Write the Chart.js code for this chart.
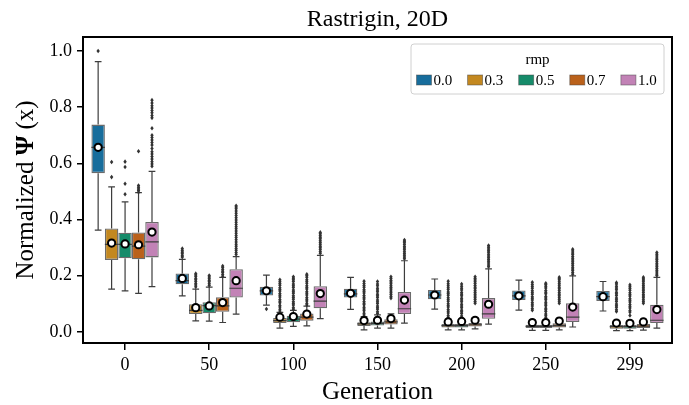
<!DOCTYPE html>
<html>
<head>
<meta charset="utf-8">
<script src="https://cdn.jsdelivr.net/npm/chart.js@4.4.1/dist/chart.umd.min.js"></script>
<style>
  html, body { margin: 0; padding: 0; background: #fff; }
</style>
</head>
<body>
<canvas id="chart" width="689" height="405"></canvas>
<script>
// data
const generations = ['0', '50', '100', '150', '200', '250', '299'];
const rmpLevels = ['0.0', '0.3', '0.5', '0.7', '1.0'];
const yTicks = [0.0, 0.2, 0.4, 0.6, 0.8, 1.0];

// rows = rmp level, columns = generation
const q1Values = [
  [0.565, 0.169, 0.129, 0.122, 0.116, 0.113, 0.110],
  [0.256, 0.063, 0.031, 0.021, 0.015, 0.013, 0.011],
  [0.262, 0.066, 0.034, 0.022, 0.015, 0.013, 0.011],
  [0.258, 0.071, 0.039, 0.026, 0.019, 0.015, 0.013],
  [0.265, 0.122, 0.084, 0.063, 0.046, 0.035, 0.031]
];
const medianValues = [
  [0.657, 0.182, 0.146, 0.135, 0.131, 0.128, 0.125],
  [0.311, 0.076, 0.040, 0.028, 0.022, 0.019, 0.018],
  [0.311, 0.093, 0.045, 0.030, 0.022, 0.019, 0.018],
  [0.305, 0.092, 0.052, 0.035, 0.025, 0.022, 0.020],
  [0.320, 0.155, 0.109, 0.082, 0.064, 0.052, 0.041]
];
const q3Values = [
  [0.738, 0.208, 0.160, 0.153, 0.149, 0.147, 0.145],
  [0.368, 0.098, 0.049, 0.034, 0.028, 0.025, 0.024],
  [0.353, 0.105, 0.057, 0.037, 0.028, 0.025, 0.024],
  [0.354, 0.123, 0.065, 0.045, 0.031, 0.030, 0.028],
  [0.391, 0.223, 0.162, 0.142, 0.120, 0.102, 0.096]
];
const whiskerLow = [
  [0.362, 0.128, 0.095, 0.080, 0.081, 0.077, 0.074],
  [0.152, 0.039, 0.013, 0.007, 0.007, 0.005, 0.004],
  [0.146, 0.038, 0.019, 0.013, 0.007, 0.005, 0.004],
  [0.137, 0.033, 0.021, 0.013, 0.010, 0.007, 0.006],
  [0.161, 0.063, 0.047, 0.031, 0.027, 0.017, 0.013]
];
const whiskerHigh = [
  [0.962, 0.258, 0.202, 0.194, 0.188, 0.184, 0.179],
  [0.516, 0.152, 0.069, 0.054, 0.045, 0.042, 0.040],
  [0.463, 0.159, 0.076, 0.060, 0.045, 0.042, 0.040],
  [0.496, 0.194, 0.091, 0.064, 0.050, 0.048, 0.045],
  [0.571, 0.268, 0.272, 0.253, 0.224, 0.199, 0.194]
];
const meanValues = [
  [0.657, 0.190, 0.146, 0.137, 0.131, 0.128, 0.125],
  [0.316, 0.086, 0.052, 0.040, 0.035, 0.033, 0.031],
  [0.313, 0.092, 0.054, 0.041, 0.037, 0.033, 0.030],
  [0.310, 0.104, 0.063, 0.047, 0.041, 0.038, 0.035],
  [0.355, 0.182, 0.136, 0.113, 0.098, 0.088, 0.079]
];

// fliers, one list per generation
const outliers00 = [
  [1.0],
  [0.266, 0.271, 0.278, 0.283, 0.289, 0.296],
  [0.081],
  [], [], [], []
];
const outliers03 = [
  [0.551, 0.605],
  [0.160, 0.167, 0.172, 0.179, 0.185, 0.190, 0.197, 0.202, 0.207],
  [0.074, 0.080, 0.088, 0.094, 0.103, 0.109, 0.115, 0.124, 0.130, 0.136, 0.145, 0.151, 0.157, 0.166, 0.172, 0.178, 0.185],
  [0.060, 0.066, 0.075, 0.081, 0.087, 0.096, 0.102, 0.108, 0.117, 0.123, 0.129, 0.138, 0.144, 0.150, 0.159, 0.165, 0.172, 0.180],
  [0.052, 0.058, 0.067, 0.073, 0.079, 0.088, 0.094, 0.100, 0.109, 0.115, 0.121, 0.130, 0.136, 0.142, 0.151, 0.157, 0.164, 0.171, 0.180],
  [0.077, 0.083, 0.092, 0.098, 0.104, 0.113, 0.119, 0.125, 0.134, 0.140, 0.146, 0.155, 0.161, 0.168, 0.176],
  [0.072, 0.078, 0.087, 0.093, 0.099, 0.108, 0.114, 0.120, 0.129, 0.135, 0.141, 0.150, 0.156, 0.162, 0.170, 0.175]
];
const outliers05 = [
  [0.490, 0.527, 0.587, 0.606],
  [0.165, 0.171, 0.178, 0.183, 0.189, 0.195, 0.200],
  [0.080, 0.086, 0.095, 0.101, 0.107, 0.116, 0.122, 0.128, 0.137, 0.143, 0.149, 0.158, 0.164, 0.170, 0.179, 0.185, 0.191, 0.196],
  [0.065, 0.071, 0.080, 0.086, 0.092, 0.101, 0.107, 0.113, 0.122, 0.128, 0.134, 0.143, 0.149, 0.155, 0.164, 0.170, 0.179],
  [0.050, 0.056, 0.065, 0.071, 0.077, 0.086, 0.092, 0.098, 0.107, 0.113, 0.119, 0.128, 0.134, 0.140, 0.149, 0.155, 0.162, 0.170],
  [0.050, 0.057, 0.063, 0.072, 0.078, 0.084, 0.093, 0.099, 0.105, 0.114, 0.120, 0.126, 0.135, 0.141, 0.147, 0.156, 0.162, 0.168, 0.173],
  [0.058, 0.070, 0.076, 0.085, 0.091, 0.097, 0.106, 0.112, 0.118, 0.127, 0.133, 0.139, 0.148, 0.154, 0.160, 0.167]
];
const outliers07 = [
  [0.497, 0.503, 0.509, 0.515, 0.521, 0.643],
  [0.198, 0.204, 0.211, 0.216, 0.222, 0.229, 0.234],
  [0.095, 0.101, 0.110, 0.116, 0.122, 0.131, 0.137, 0.143, 0.152, 0.158, 0.164, 0.173, 0.179, 0.185, 0.194, 0.200, 0.205],
  [0.120, 0.126, 0.133, 0.139, 0.145, 0.152, 0.158, 0.164, 0.171, 0.177, 0.183, 0.190, 0.196],
  [0.102, 0.108, 0.115, 0.121, 0.127, 0.134, 0.140, 0.146, 0.153, 0.159, 0.165, 0.172, 0.178, 0.184, 0.190, 0.196],
  [0.102, 0.109, 0.115, 0.121, 0.128, 0.134, 0.140, 0.147, 0.153, 0.159, 0.166, 0.172, 0.178, 0.185, 0.190, 0.194],
  [0.102, 0.108, 0.114, 0.121, 0.127, 0.133, 0.140, 0.146, 0.152, 0.159, 0.165, 0.171, 0.178, 0.184, 0.189, 0.194]
];
const outliers10 = [
  [0.590, 0.598, 0.606, 0.615, 0.624, 0.633, 0.641, 0.653, 0.665, 0.674, 0.683, 0.692, 0.700, 0.725, 0.762, 0.770, 0.780, 0.788, 0.797, 0.805, 0.815, 0.825],
  [0.275, 0.282, 0.290, 0.297, 0.305, 0.312, 0.320, 0.328, 0.336, 0.343, 0.351, 0.359, 0.367, 0.374, 0.382, 0.390, 0.398, 0.406, 0.414, 0.422, 0.430, 0.438, 0.444, 0.449],
  [0.280, 0.286, 0.293, 0.299, 0.305, 0.312, 0.318, 0.324, 0.331, 0.337, 0.343, 0.349, 0.354],
  [0.260, 0.266, 0.273, 0.279, 0.285, 0.292, 0.298, 0.304, 0.311, 0.317, 0.322, 0.327],
  [0.232, 0.238, 0.245, 0.251, 0.257, 0.264, 0.270, 0.276, 0.283, 0.289, 0.295, 0.301, 0.307],
  [0.205, 0.211, 0.218, 0.224, 0.230, 0.237, 0.243, 0.249, 0.256, 0.262, 0.268, 0.275, 0.281, 0.288, 0.294],
  [0.200, 0.206, 0.213, 0.219, 0.225, 0.232, 0.238, 0.244, 0.251, 0.257, 0.263, 0.270, 0.276, 0.282]
];
const outlierValues = [outliers00, outliers03, outliers05, outliers07, outliers10];

const boxColors = ['#176d9c', '#c38820', '#168b6a', '#ba611b', '#c282b6'];
const serif = "'Liberation Serif', 'DejaVu Serif', serif";

const datasets = rmpLevels.map((lvl, i) => ({
  label: lvl,
  data: generations.map((g, j) => [q1Values[i][j], q3Values[i][j]]),
  backgroundColor: boxColors[i],
  borderColor: 'rgba(70,70,70,0.8)',
  borderWidth: 1.3,
  borderSkipped: false,
  categoryPercentage: 0.8,
  barPercentage: 1.0
}));

// whiskers, medians, fliers, means, frame, legend and text
const boxExtras = {
  id: 'boxExtras',
  afterDatasetsDraw(chart) {
    const ctx = chart.ctx;
    const y = chart.scales.y;
    const area = chart.chartArea;
    ctx.save();
    ctx.beginPath();
    ctx.rect(area.left, area.top, area.right - area.left, area.bottom - area.top);
    ctx.clip();
    chart.data.datasets.forEach((ds, i) => {
      const meta = chart.getDatasetMeta(i);
      meta.data.forEach((bar, j) => {
        const x = bar.x, w = bar.width, cap = w / 4;
        ctx.strokeStyle = '#3d3d3d';
        ctx.lineWidth = 1.2;
        ctx.beginPath();
        ctx.moveTo(x, y.getPixelForValue(q3Values[i][j]));
        ctx.lineTo(x, y.getPixelForValue(whiskerHigh[i][j]));
        ctx.moveTo(x, y.getPixelForValue(q1Values[i][j]));
        ctx.lineTo(x, y.getPixelForValue(whiskerLow[i][j]));
        ctx.moveTo(x - cap, y.getPixelForValue(whiskerHigh[i][j]));
        ctx.lineTo(x + cap, y.getPixelForValue(whiskerHigh[i][j]));
        ctx.moveTo(x - cap, y.getPixelForValue(whiskerLow[i][j]));
        ctx.lineTo(x + cap, y.getPixelForValue(whiskerLow[i][j]));
        const ym = y.getPixelForValue(medianValues[i][j]);
        ctx.moveTo(x - w / 2, ym);
        ctx.lineTo(x + w / 2, ym);
        ctx.stroke();

        ctx.fillStyle = '#333';
        outlierValues[i][j].forEach(v => {
          const py = y.getPixelForValue(v);
          ctx.beginPath();
          ctx.moveTo(x, py - 2.3);
          ctx.lineTo(x + 1.7, py);
          ctx.lineTo(x, py + 2.3);
          ctx.lineTo(x - 1.7, py);
          ctx.closePath();
          ctx.fill();
        });

        ctx.beginPath();
        ctx.arc(x, y.getPixelForValue(meanValues[i][j]), 3.6, 0, Math.PI * 2);
        ctx.fillStyle = '#fff';
        ctx.fill();
        ctx.lineWidth = 2;
        ctx.strokeStyle = '#000';
        ctx.stroke();
      });
    });
    ctx.restore();
  },
  afterDraw(chart) {
    const ctx = chart.ctx;
    const area = chart.chartArea;
    ctx.save();
    ctx.strokeStyle = '#000';
    ctx.lineWidth = 2;
    ctx.strokeRect(area.left, area.top, area.right - area.left, area.bottom - area.top);

    // title
    ctx.fillStyle = '#000';
    ctx.textAlign = 'center';
    ctx.textBaseline = 'alphabetic';
    ctx.font = '24px ' + serif;
    const cx = (area.left + area.right) / 2;
    ctx.fillText('Rastrigin, 20D', cx, 26);

    // x axis title
    ctx.font = '25px ' + serif;
    ctx.fillText('Generation', cx, 399);

    // y axis title with bold Psi
    const parts = [['Normalized ', '25px '], ['\u03A8', 'bold 25px '], [' (x)', '25px ']];
    let total = 0;
    parts.forEach(p => { ctx.font = p[1] + serif; total += ctx.measureText(p[0]).width; });
    ctx.translate(33, (area.top + area.bottom) / 2);
    ctx.rotate(-Math.PI / 2);
    ctx.textAlign = 'left';
    let px = -total / 2;
    parts.forEach(p => {
      ctx.font = p[1] + serif;
      ctx.fillText(p[0], px, 0);
      px += ctx.measureText(p[0]).width;
    });
    ctx.restore();

    // legend
    ctx.save();
    const lx = 411, ly = 44, lw = 253, lh = 50;
    ctx.beginPath();
    ctx.roundRect(lx, ly, lw, lh, 3);
    ctx.fillStyle = 'rgba(255,255,255,0.85)';
    ctx.fill();
    ctx.strokeStyle = '#d0d0d0';
    ctx.lineWidth = 1;
    ctx.stroke();
    ctx.fillStyle = '#000';
    ctx.textAlign = 'center';
    ctx.textBaseline = 'alphabetic';
    ctx.font = '15px ' + serif;
    ctx.fillText('rmp', lx + lw / 2, 64);
    ctx.textAlign = 'left';
    chart.data.datasets.forEach((ds, i) => {
      const sx = 416.5 + i * 51.1;
      ctx.fillStyle = ds.backgroundColor;
      ctx.fillRect(sx, 75, 15, 10);
      ctx.strokeStyle = 'rgba(70,70,70,0.6)';
      ctx.lineWidth = 0.8;
      ctx.strokeRect(sx, 75, 15, 10);
      ctx.fillStyle = '#000';
      ctx.fillText(ds.label, sx + 17, 85);
    });
    ctx.restore();
  }
};

new Chart(document.getElementById('chart'), {
  type: 'bar',
  data: { labels: generations, datasets: datasets },
  options: {
    responsive: false,
    animation: false,
    layout: { padding: { top: 37, right: 17, left: 0, bottom: 0 } },
    plugins: { legend: { display: false }, tooltip: { enabled: false }, title: { display: false } },
    scales: {
      x: {
        grid: { display: true, drawOnChartArea: false, drawTicks: true, tickLength: 7, offset: false, color: '#000', lineWidth: 1.5 },
        border: { display: true, color: '#000', width: 2 },
        ticks: { color: '#000', font: { family: serif, size: 18 }, padding: 4, maxRotation: 0 },
        afterFit(scale) { scale.height = 62; }
      },
      y: {
        min: -0.04,
        max: 1.05,
        grid: { display: true, drawOnChartArea: false, drawTicks: true, tickLength: 6, color: '#000', lineWidth: 1.5 },
        border: { display: true, color: '#000', width: 2 },
        ticks: { color: '#000', font: { family: serif, size: 18 }, padding: 5, callback: v => v.toFixed(1) },
        afterBuildTicks(scale) { scale.ticks = yTicks.map(v => ({ value: v })); },
        afterFit(scale) { scale.width = 83; }
      }
    }
  },
  plugins: [boxExtras]
});
</script>
</body>
</html>
